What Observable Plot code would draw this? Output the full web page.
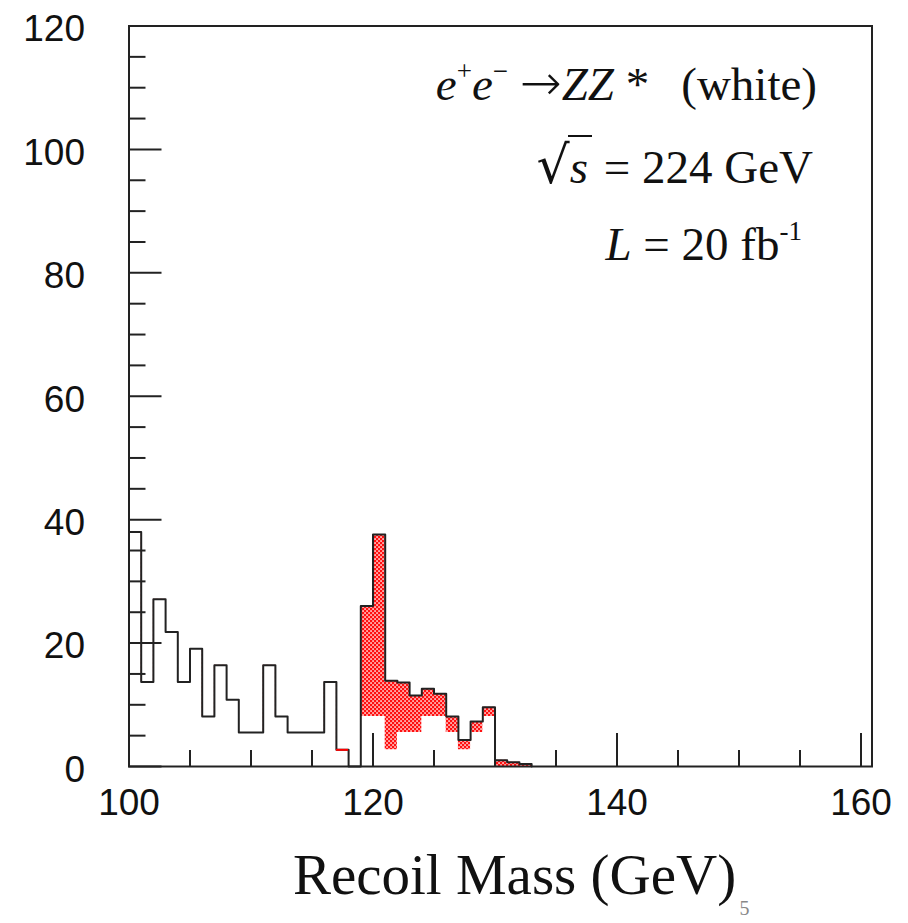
<!DOCTYPE html>
<html>
<head>
<meta charset="utf-8">
<script src="https://cdn.jsdelivr.net/npm/d3@7"></script>
<script src="https://cdn.jsdelivr.net/npm/@observablehq/plot@0.6"></script>
<style>
  body { margin: 0; background: #fff; }
  #wrap { position: relative; width: 908px; height: 923px; overflow: hidden; background: #fff; }
  .ann { position: absolute; font-family: "Liberation Serif", "Times New Roman", serif; font-size: 47px; line-height: 47px; white-space: nowrap; color: #111; }
  .ann i { font-style: italic; }
  .sup { font-size: 27px; line-height: 0; position: relative; top: -20px; }
  .arr { font-family: "DejaVu Sans", sans-serif; font-weight: 200; font-size: 50px; line-height: 0; }
  .rad { font-family: "DejaVu Serif", serif; font-size: 52px; line-height: 0; }
  .ov { border-top: 2px solid #111; padding-top: 4px; padding-right: 4px; margin-left: -2px; padding-left: 2px; }
</style>
</head>
<body>
<div id="wrap"></div>
<script>
// ---- data ----
const binEdges = [100,101,102,103,104,105,106,107,108,109,110,111,112,113,114,115,116,117,118,119,120,121,122,123,124,125,126,127,128,129,130,131,132,133];
// total (ZZ* + signal) per 1 GeV bin
const totalCounts = [38.0,13.7,27.1,21.8,13.7,19.1,8.1,16.4,10.8,5.5,5.5,16.4,8.1,5.5,5.5,5.5,13.7,2.7,0,26.0,37.6,13.9,13.6,11.5,12.6,11.8,8.1,4.3,7.3,9.6,1.0,0.7,0.4];
// ZZ* background (white)
const zzCounts    = [38.0,13.7,27.1,21.8,13.7,19.1,8.1,16.4,10.8,5.5,5.5,16.4,8.1,5.5,5.5,5.5,13.7,2.7,0,8.1,8.1,2.7,5.5,5.5,8.1,8.1,5.5,2.7,5.5,8.1,0,0,0];
// bins whose top edge is drawn in red
const redOutlineBins = [117];

const xMajorTicks = [100,120,140,160];
const xMinorTicks = [105,110,115,125,130,135,145,150,155];
const yMajorTicks = [0,20,40,60,80,100,120];
const yMinorTicks = [5,10,15,25,30,35,45,50,55,65,70,75,85,90,95,105,110,115];
const xDomain = [100, 160.9];
const yDomain = [0, 120];
const xTitle = "Recoil Mass (GeV)";
const pageNumber = ["5"];

// ---- build tables ----
const steps = binEdges.map((x, i) => ({
  x,
  total: i < totalCounts.length ? totalCounts[i] : 0,
  zz: i < zzCounts.length ? zzCounts[i] : 0
}));
const redSegs = redOutlineBins.map(b => {
  const i = binEdges.indexOf(b);
  return {x1: binEdges[i], x2: binEdges[i + 1], y: totalCounts[i]};
});

const ink = "#222";
const noText = () => "";
const plot = Plot.plot({
  width: 908,
  height: 923,
  marginLeft: 128.5,
  marginRight: 36.5,
  marginTop: 25.5,
  marginBottom: 157,
  style: {fontFamily: '"Liberation Sans", Arial, sans-serif', color: "#000", background: "#fff", overflow: "visible"},
  x: {domain: xDomain, label: null},
  y: {domain: yDomain, label: null},
  marks: [
    Plot.areaY(steps, {x: "x", y: "total", curve: "step-after", fill: "url(#redDots)"}),
    Plot.areaY(steps, {x: "x", y: "zz", curve: "step-after", fill: "#fff"}),
    Plot.line(steps, {x: "x", y: "total", curve: "step-after", stroke: ink, strokeWidth: 2}),
    Plot.ruleY(redSegs, {x1: "x1", x2: "x2", y: "y", stroke: "#ff0000", strokeWidth: 2}),
    Plot.axisY(yMajorTicks, {tickSize: -33, tickFormat: noText, label: null, stroke: ink, strokeWidth: 2}),
    Plot.axisY(yMinorTicks, {tickSize: -17, tickFormat: noText, label: null, stroke: ink, strokeWidth: 2}),
    Plot.axisY(yMajorTicks, {tickSize: 0, tickPadding: 44, fontSize: 37, dy: 3.5, label: null, fill: "#111"}),
    Plot.axisX(xMajorTicks, {tickSize: -33, tickFormat: noText, label: null, stroke: ink, strokeWidth: 2}),
    Plot.axisX(xMinorTicks, {tickSize: -16, tickFormat: noText, label: null, stroke: ink, strokeWidth: 2}),
    Plot.axisX(xMajorTicks, {tickSize: 0, tickPadding: 22, fontSize: 37, label: null, fill: "#111"}),
    Plot.frame({stroke: ink, strokeWidth: 2}),
    Plot.text([xTitle], {text: d => d, frameAnchor: "bottom", dx: 14, dy: 127, lineAnchor: "bottom",
      fontFamily: '"Liberation Serif", "Times New Roman", serif', fontSize: 57, fill: "#111"}),
    Plot.text(pageNumber, {text: d => d, frameAnchor: "bottom", dx: 244, dy: 148, lineAnchor: "bottom",
      fontFamily: '"Liberation Serif", "Times New Roman", serif', fontSize: 20, fill: "#888"})
  ]
});

// pattern definition for the red dotted fill
const ns = "http://www.w3.org/2000/svg";
const defs = document.createElementNS(ns, "defs");
const pat = document.createElementNS(ns, "pattern");
pat.setAttribute("id", "redDots");
pat.setAttribute("width", "4");
pat.setAttribute("height", "4");
pat.setAttribute("patternUnits", "userSpaceOnUse");
const addRect = (x, y, w, h, f) => {
  const r = document.createElementNS(ns, "rect");
  r.setAttribute("x", x); r.setAttribute("y", y);
  r.setAttribute("width", w); r.setAttribute("height", h);
  r.setAttribute("fill", f);
  pat.appendChild(r);
};
addRect(0, 0, 4, 4, "#ff1010");
addRect(0.3, 0.3, 1.5, 1.5, "#ffffff");
addRect(2.3, 2.3, 1.5, 1.5, "#ffffff");
defs.appendChild(pat);
plot.insertBefore(defs, plot.firstChild);

const wrap = document.getElementById("wrap");
wrap.appendChild(plot);

// annotation (physics labels)
const ann = [
  {html: '<i>e</i><span class="sup">+</span><i>e</i><span class="sup">\u2212</span> <span class="arr">\u2192</span><i>ZZ</i> *<span style="margin-left:32px">(white)</span>', right: 91, top: 61},
  {html: '<span class="rad">\u221A</span><span class="ov"><i>s</i></span> = 224 GeV', right: 95, top: 144},
  {html: '<i>L</i> = 20 fb<span class="sup">-1</span>', right: 106, top: 221}
];
for (const a of ann) {
  const d = document.createElement("div");
  d.className = "ann";
  d.style.right = a.right + "px";
  d.style.top = a.top + "px";
  d.innerHTML = a.html;
  wrap.appendChild(d);
}
</script>
</body>
</html>
